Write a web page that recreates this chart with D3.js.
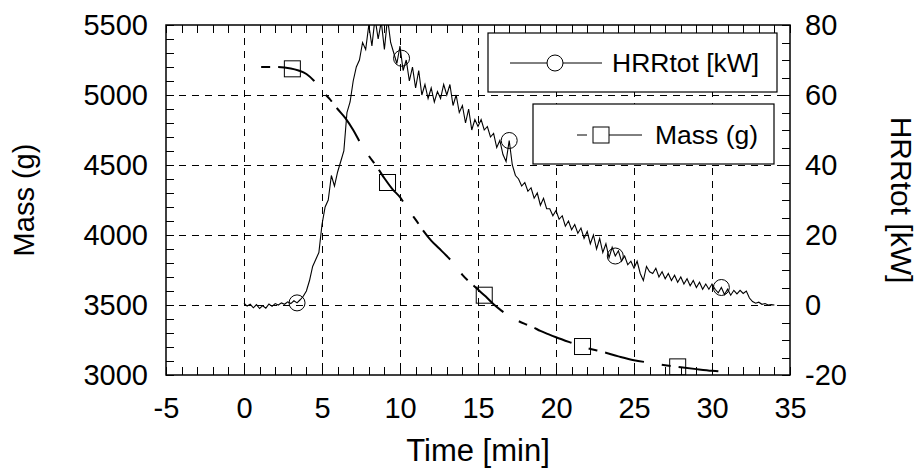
<!DOCTYPE html>
<html>
<head>
<meta charset="utf-8">
<script src="https://cdn.jsdelivr.net/npm/d3@7"></script>
<style>
  html, body { margin: 0; padding: 0; background: #fff; }
  svg { display: block; font-family: "Liberation Sans", Arial, Helvetica, sans-serif; }
</style>
</head>
<body>
<svg id="chart" width="922" height="468"></svg>
<script>
// ---- Data ----
const xTicks = [-5, 0, 5, 10, 15, 20, 25, 30, 35];
const massTicks = [3000, 3500, 4000, 4500, 5000, 5500];
const hrrTicks = [-20, 0, 20, 40, 60, 80];

// Mass (g) vs time (min)
const massTime = [1.1, 2, 3, 3.5, 4, 4.5, 5, 5.5, 6, 6.5, 7, 7.5, 8, 8.5, 9, 9.5, 10, 10.5, 11, 11.5, 12, 12.5, 13, 13.5, 14, 14.5, 15, 15.5, 16, 16.5, 17, 17.5, 18, 18.5, 19, 19.5, 20, 21, 22, 23, 24, 25, 26, 27, 28, 29, 30, 31];
const massValue = [5200, 5200, 5190, 5175, 5150, 5100, 5030, 4970, 4900, 4835, 4750, 4650, 4565, 4490, 4405, 4330, 4270, 4185, 4110, 4030, 3960, 3905, 3850, 3790, 3715, 3660, 3610, 3560, 3505, 3460, 3420, 3390, 3365, 3343, 3315, 3292, 3270, 3230, 3192, 3165, 3133, 3105, 3088, 3070, 3055, 3042, 3030, 3021];
const massMarkerTime = [3.1, 9.2, 15.4, 21.7, 27.8];

// HRRtot (kW), sampled every 0.2 min from t = 0
const hrrStart = 0, hrrStep = 0.2;
const hrrValue = [
  0.5, -0.3, 0.2, -0.8, 0.1, -1.0, -0.2, -0.9, 0.3, -0.4, 0.4, 0.0, 0.6, 0.2, 0.9, 0.4, 1.2, 0.6,
  1.5, 2.5, 4, 7, 11, 13, 15, 23, 28, 30,
  37, 34, 38, 41, 44, 55, 58, 64, 68, 70,
  75, 73, 80, 74, 82, 76, 81, 73, 82, 75,
  72, 69, 74, 67, 70, 64, 68, 62, 67, 60,
  63, 59, 62, 58, 61, 59, 63, 60, 63, 57,
  60, 55, 57, 52, 56, 50, 53, 51, 53, 50,
  51, 48, 49, 45, 47, 43, 41, 47, 40, 37,
  36, 34, 35, 32.5, 33.5, 30.5, 32, 28.5, 30.5, 27.5,
  27.5, 25.5, 27, 24.5, 25.5, 22.5, 24, 21.5, 23, 20.5,
  22, 19, 21, 17.5, 20, 16, 19, 15, 17.5, 13.5,
  16.5, 14, 15.5, 12.5, 14, 11.5, 12.5, 10.5, 12.5, 9,
  7, 11, 9.5, 9, 10.5, 8, 9.5, 7.5, 9, 7,
  8.5, 6.5, 8, 6, 7.5, 5.5, 7, 5, 6.5, 4.5,
  6, 4.5, 6, 4.5, 3.5, 5, 3, 4.5, 2.8, 4.2,
  3.2, 4.2, 3.3, 4, 2, 1, 0.5, 0.8, 0.2, 0.4,
  0, 0.1, 0
];
const hrrMarkerTime = [3.4, 10.1, 17.0, 23.8, 30.6];

// ---- Layout ----
const svg = d3.select("#chart");
const L = 166, R = 790, T = 25, B = 375;
const x = d3.scaleLinear().domain([-5, 35]).range([L, R]);
const yL = d3.scaleLinear().domain([3000, 5500]).range([B, T]);
const yR = d3.scaleLinear().domain([-20, 80]).range([B, T]);
const fmt = d => String(d);

const massData = massTime.map((t, i) => ({ t, v: massValue[i] }));
const hrrData = hrrValue.map((v, i) => ({ t: hrrStart + i * hrrStep, v }));

function interp(data, t) {
  const bis = d3.bisector(d => d.t).left;
  let i = bis(data, t);
  if (i <= 0) return data[0].v;
  if (i >= data.length) return data[data.length - 1].v;
  const a = data[i - 1], b = data[i];
  return a.v + (b.v - a.v) * (t - a.t) / (b.t - a.t);
}

svg.append("defs").append("clipPath").attr("id", "clip")
  .append("rect").attr("x", L).attr("y", T).attr("width", R - L).attr("height", B - T);

// Grid
const grid = svg.append("g").attr("stroke", "#000").attr("stroke-width", 1)
  .attr("stroke-dasharray", "7,6").attr("shape-rendering", "crispEdges");
xTicks.filter(d => d > -5 && d < 35).forEach(d => {
  grid.append("line").attr("x1", x(d)).attr("x2", x(d)).attr("y1", T).attr("y2", B);
});
massTicks.filter(d => d > 3000 && d < 5500).forEach(d => {
  grid.append("line").attr("x1", L).attr("x2", R).attr("y1", yL(d)).attr("y2", yL(d));
});

// Minor inward ticks
function minor(axis, tr) {
  const g = svg.append("g").attr("transform", tr).call(axis);
  g.select(".domain").remove();
  g.selectAll("text").remove();
  g.selectAll(".tick line").attr("stroke", "#000").attr("stroke-width", 1).attr("shape-rendering", "crispEdges");
}
minor(d3.axisBottom(x).tickValues(d3.range(-5, 35.01, 1)).tickSize(-8), `translate(0,${B})`);
minor(d3.axisTop(x).tickValues(d3.range(-5, 35.01, 1)).tickSize(-8), `translate(0,${T})`);
minor(d3.axisLeft(yL).tickValues(d3.range(3000, 5500.1, 100)).tickSize(-8), `translate(${L},0)`);
minor(d3.axisRight(yR).tickValues(d3.range(-20, 80.1, 5)).tickSize(-8), `translate(${R},0)`);

// Labeled axes
function labels(axis, tr) {
  const g = svg.append("g").attr("transform", tr).call(axis);
  g.select(".domain").remove();
  g.selectAll(".tick line").remove();
  g.selectAll("text").attr("font-size", 29).attr("fill", "#000")
    .style("font-family", '"Liberation Sans", Arial, sans-serif');
  return g;
}
labels(d3.axisBottom(x).tickValues(xTicks).tickSize(0).tickPadding(22).tickFormat(fmt), `translate(0,${B})`);
labels(d3.axisLeft(yL).tickValues(massTicks).tickSize(0).tickPadding(18).tickFormat(fmt), `translate(${L},0)`);
labels(d3.axisRight(yR).tickValues(hrrTicks).tickSize(0).tickPadding(15).tickFormat(fmt), `translate(${R},0)`);

// Series
const plot = svg.append("g").attr("clip-path", "url(#clip)");
plot.append("path").datum(hrrData)
  .attr("fill", "none").attr("stroke", "#000").attr("stroke-width", 1.1)
  .attr("d", d3.line().x(d => x(d.t)).y(d => yR(d.v)));
plot.append("path").datum(massData)
  .attr("fill", "none").attr("stroke", "#000").attr("stroke-width", 2)
  .attr("stroke-dasharray", "9,8,40,18")
  .attr("d", d3.line().curve(d3.curveMonotoneX).x(d => x(d.t)).y(d => yL(d.v)));

plot.selectAll("circle.hm").data(hrrMarkerTime).enter().append("circle")
  .attr("cx", d => x(d)).attr("cy", d => yR(interp(hrrData, d))).attr("r", 8)
  .attr("fill", "none").attr("stroke", "#000").attr("stroke-width", 1);
plot.selectAll("rect.mm").data(massMarkerTime).enter().append("rect")
  .attr("x", d => x(d) - 8).attr("y", d => yL(interp(massData, d)) - 8)
  .attr("width", 16).attr("height", 16)
  .attr("fill", "none").attr("stroke", "#000").attr("stroke-width", 1);

// Frame
svg.append("rect").attr("x", L).attr("y", T).attr("width", R - L).attr("height", B - T)
  .attr("fill", "none").attr("stroke", "#000").attr("stroke-width", 1.5);

// Legends
const lg1 = svg.append("g");
lg1.append("rect").attr("x", 488).attr("y", 33).attr("width", 289).attr("height", 59)
  .attr("fill", "#fff").attr("stroke", "#000").attr("stroke-width", 1.2);
lg1.append("line").attr("x1", 510).attr("x2", 602).attr("y1", 63).attr("y2", 63).attr("stroke", "#000");
lg1.append("circle").attr("cx", 555).attr("cy", 63).attr("r", 8).attr("fill", "#fff").attr("stroke", "#000");
lg1.append("text").attr("x", 612).attr("y", 63).attr("dy", "0.35em").attr("font-size", 26.5).text("HRRtot [kW]");

const lg2 = svg.append("g");
lg2.append("rect").attr("x", 533).attr("y", 104).attr("width", 241).attr("height", 60)
  .attr("fill", "#fff").attr("stroke", "#000").attr("stroke-width", 1.2);
lg2.append("line").attr("x1", 577).attr("x2", 642).attr("y1", 135).attr("y2", 135)
  .attr("stroke", "#000").attr("stroke-dasharray", "10,6,60");
lg2.append("rect").attr("x", 593).attr("y", 127).attr("width", 16).attr("height", 16)
  .attr("fill", "#fff").attr("stroke", "#000");
lg2.append("text").attr("x", 655).attr("y", 135).attr("dy", "0.35em").attr("font-size", 26.5).text("Mass (g)");

// Axis titles
svg.append("text").attr("x", (L + R) / 2).attr("y", 461).attr("text-anchor", "middle")
  .attr("font-size", 31).text("Time [min]");
svg.append("text").attr("transform", "translate(34,200) rotate(-90)").attr("text-anchor", "middle")
  .attr("font-size", 29).text("Mass (g)");
svg.append("text").attr("transform", "translate(891,200) rotate(90)").attr("text-anchor", "middle")
  .attr("font-size", 30).text("HRRtot [kW]");
</script>
</body>
</html>
